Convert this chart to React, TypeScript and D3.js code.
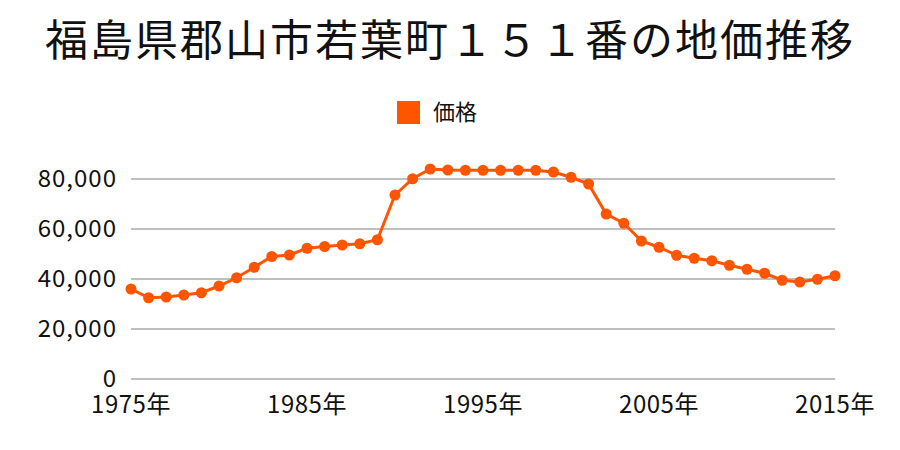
import React from "react";
import * as d3 from "d3";

const title = "福島県郡山市若葉町１５１番の地価推移";
const seriesName = "価格";
const years = d3.range(1975, 2016);
const prices = [
  36000, 32500, 32800, 33600, 34500, 37200, 40500, 44700, 49000, 49600,
  52300, 53000, 53600, 54100, 55700, 73600, 80100, 84000, 83600, 83500,
  83500, 83500, 83500, 83500, 82800, 80700, 78000, 66000, 62300, 55200,
  52700, 49500, 48300, 47300, 45500, 43900, 42300, 39500, 38800, 39900,
  41300,
];
const yTicks = [0, 20000, 40000, 60000, 80000];
const xTicks = [1975, 1985, 1995, 2005, 2015];

export default function App() {
  const W = 900, H = 450;
  const x = d3.scaleLinear().domain([1975, 2015]).range([131, 835]);
  const y = d3.scaleLinear().domain([0, 80000]).range([379, 179]);
  const color = "#ff5500";
  const font = "'Noto Sans CJK JP', 'Noto Sans', sans-serif";
  const line = d3.line<number>().x((_, i) => x(years[i])).y((d) => y(d));
  const fmt = d3.format(",");
  return (
    <svg width={W} height={H} style={{ position: "absolute", left: 0, top: 0, background: "#fff" }} fontFamily={font}>
      <text x={450} y={56} textAnchor="middle" fontSize={43} letterSpacing={2} fill="#111">{title}</text>
      <rect x={397} y={101} width={23} height={23} fill={color} />
      <text x={433} y={120} fontSize={22} fill="#111">{seriesName}</text>
      {yTicks.map((t) => (
        <g key={t}>
          <line x1={131} x2={835} y1={y(t)} y2={y(t)} stroke="#aaa" strokeWidth={1.5} />
          <text x={117} y={y(t) + 8} textAnchor="end" fontSize={24} letterSpacing={1} fill="#111">{fmt(t)}</text>
        </g>
      ))}
      {xTicks.map((t) => (
        <text key={t} x={x(t)} y={413} textAnchor="middle" fontSize={24} letterSpacing={0.5} fill="#111">{t}年</text>
      ))}
      <path d={line(prices) || ""} fill="none" stroke={color} strokeWidth={3} />
      {prices.map((p, i) => (
        <circle key={i} cx={x(years[i])} cy={y(p)} r={5.5} fill={color} />
      ))}
    </svg>
  );
}
